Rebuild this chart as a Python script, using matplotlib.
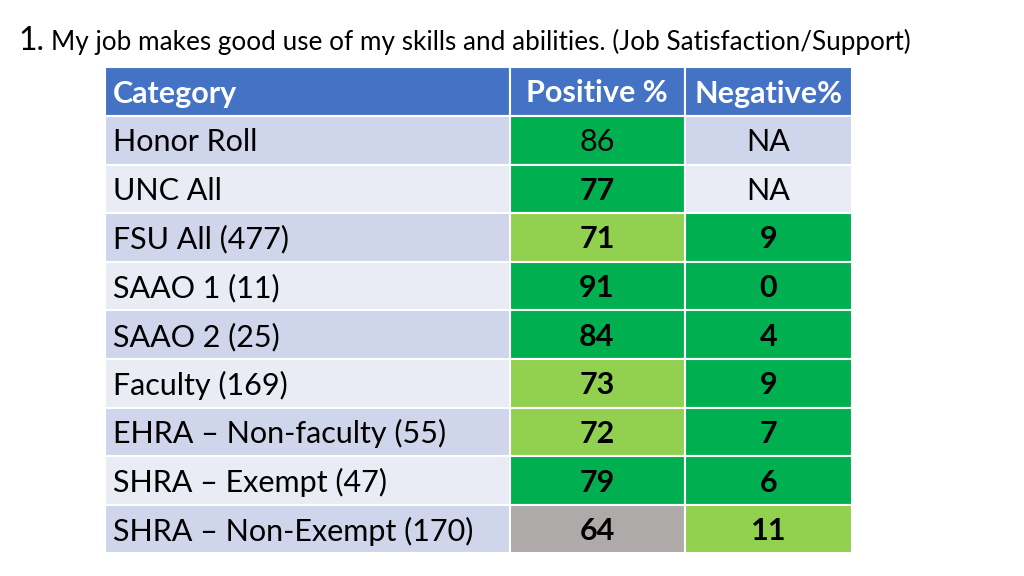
import matplotlib.pyplot as plt
from matplotlib.patches import Rectangle

plt.rcParams['font.family'] = ['Lato', 'DejaVu Sans']

title_num = '1.'
title_text = 'My job makes good use of my skills and abilities. (Job Satisfaction/Support)'
headers = ['Category', 'Positive %', 'Negative%']
categories = ['Honor Roll', 'UNC All', 'FSU All (477)', 'SAAO 1 (11)', 'SAAO 2 (25)',
              'Faculty (169)', 'EHRA \u2013 Non-faculty (55)', 'SHRA \u2013 Exempt (47)',
              'SHRA \u2013 Non-Exempt (170)']
positive = ['86', '77', '71', '91', '84', '73', '72', '79', '64']
negative = ['NA', 'NA', '9', '0', '4', '9', '7', '6', '11']
# fill class per cell: 'dg' dark green, 'lg' light green, 'gr' grey, None = row band
pos_fill = ['dg', 'dg', 'lg', 'dg', 'dg', 'lg', 'lg', 'dg', 'gr']
neg_fill = [None, None, 'dg', 'dg', 'dg', 'dg', 'dg', 'dg', 'lg']
pos_bold = [False, True, True, True, True, True, True, True, True]
neg_bold = [False, False, True, True, True, True, True, True, True]

colors = {'dg': '#00B050', 'lg': '#92D050', 'gr': '#AEAAAA'}
header_color = '#4472C4'
band = ['#CFD5EA', '#E9EBF5']

fig = plt.figure(figsize=(10.24, 5.76), dpi=100)
ax = fig.add_axes([0, 0, 1, 1])
ax.set_xlim(0, 1024)
ax.set_ylim(576, 0)
ax.axis('off')

# title
t = ax.text(18, 41, title_num, fontsize=23, va='center', ha='left')
fig.canvas.draw()
bb = t.get_window_extent()
ax.text(18 + bb.width + 7, 42, title_text, fontsize=18.8, va='center', ha='left')

col_x = [105, 509.5, 684.5, 852]
top = 67
head_h = 49
row_h = 48.6

def cell(x0, x1, y0, h, fc):
    ax.add_patch(Rectangle((x0, y0), x1 - x0, h, facecolor=fc, edgecolor='white', lw=1.5))

for j, h in enumerate(headers):
    cell(col_x[j], col_x[j + 1], top, head_h, header_color)
    if j == 0:
        ax.text(col_x[0] + 8, top + head_h / 2 + 2, h, color='white', fontsize=22,
                fontweight='bold', va='center', ha='left')
    else:
        ax.text((col_x[j] + col_x[j + 1]) / 2, top + head_h / 2 + 2, h, color='white',
                fontsize=22, fontweight='bold', va='center', ha='center')

for i, cat in enumerate(categories):
    y0 = top + head_h + i * row_h
    bc = band[i % 2]
    yc = y0 + row_h / 2 + 2
    cell(col_x[0], col_x[1], y0, row_h, bc)
    ax.text(col_x[0] + 8, yc, cat, fontsize=22, va='center', ha='left', color='black')
    cell(col_x[1], col_x[2], y0, row_h, colors[pos_fill[i]])
    ax.text((col_x[1] + col_x[2]) / 2, yc, positive[i], fontsize=22, va='center', ha='center',
            fontweight='bold' if pos_bold[i] else 'normal')
    nf = neg_fill[i]
    cell(col_x[2], col_x[3], y0, row_h, colors[nf] if nf else bc)
    ax.text((col_x[2] + col_x[3]) / 2, yc, negative[i], fontsize=22, va='center', ha='center',
            fontweight='bold' if neg_bold[i] else 'normal')

fig.savefig('out.png', dpi=100)
